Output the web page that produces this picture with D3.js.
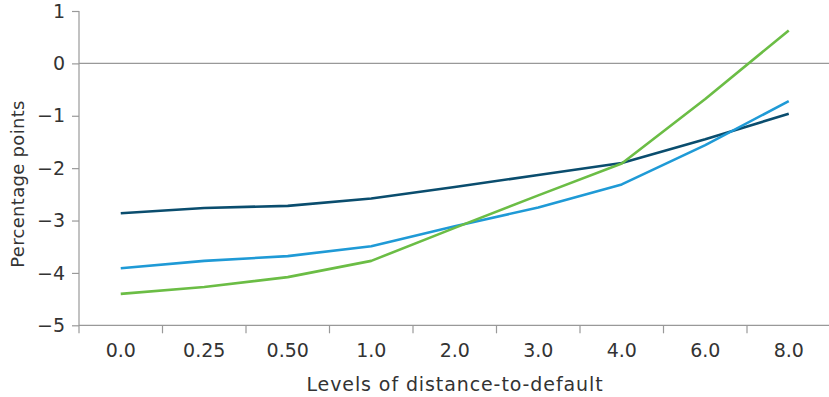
<!DOCTYPE html>
<html><head><meta charset="utf-8">
<script src="https://cdn.jsdelivr.net/npm/d3@7"></script>
<style>body{margin:0;background:#fff;} text{font-family:"DejaVu Sans",sans-serif;fill:#333;}</style>
</head><body>
<svg id="c" width="829" height="397"></svg>
<script>
const categories = ["0.0","0.25","0.50","1.0","2.0","3.0","4.0","6.0","8.0"];
const seriesNavy  = [-2.86,-2.76,-2.72,-2.58,-2.36,-2.13,-1.90,-1.45,-0.96];
const seriesBlue  = [-3.91,-3.77,-3.68,-3.49,-3.11,-2.75,-2.31,-1.56,-0.72];
const seriesGreen = [-4.40,-4.27,-4.08,-3.77,-3.14,-2.52,-1.91,-0.68,0.63];
const yTicks = [1,0,-1,-2,-3,-4,-5];
const yTickLabels = ["1","0","\u22121","\u22122","\u22123","\u22124","\u22125"];
const colors = ["#0a4d6e","#1f9ad6","#6bbd45"];

const svg = d3.select("#c");
const x = d3.scaleBand().domain(categories).range([79, 830.5]).padding(0);
const y = d3.scaleLinear().domain([-5, 1]).range([325.3, 11]);
const axisColor = "#999";
const fs = "19px";

// y axis
const gy = svg.append("g").attr("transform","translate(79,0)")
  .call(d3.axisLeft(y).tickValues(yTicks).tickSize(7).tickPadding(7)
    .tickFormat(d=>yTickLabels[yTicks.indexOf(d)]));
gy.select(".domain").attr("stroke",axisColor).attr("stroke-width",1.2).attr("d","M0,"+y(1)+"V"+y(-5));
gy.selectAll(".tick line").attr("stroke",axisColor).attr("stroke-width",1.2);
gy.selectAll(".tick text").style("font-size",fs).style("fill","#333").style("font-family","DejaVu Sans");

// x axis bottom
const gx = svg.append("g").attr("transform","translate(0,"+y(-5)+")");
gx.append("line").attr("x1",79).attr("x2",829).attr("y1",0).attr("y2",0)
  .attr("stroke",axisColor).attr("stroke-width",1.2);
gx.selectAll("line.tk").data(categories).enter().append("line").attr("class","tk")
  .attr("x1",d=>x(d)).attr("x2",d=>x(d)).attr("y1",0).attr("y2",8)
  .attr("stroke",axisColor).attr("stroke-width",1.2);
gx.selectAll("text").data(categories).enter().append("text")
  .attr("x",d=>x(d)+x.bandwidth()/2).attr("y",32).attr("text-anchor","middle")
  .style("font-size",fs).text(d=>d);

// zero line
svg.append("line").attr("x1",79).attr("x2",829).attr("y1",y(0)).attr("y2",y(0))
  .attr("stroke",axisColor).attr("stroke-width",1.2);

// lines
const line = d3.line().x((d,i)=>x(categories[i])+x.bandwidth()/2).y(d=>y(d));
[seriesNavy, seriesBlue, seriesGreen].forEach((s,k)=>{
  svg.append("path").datum(s).attr("d",line).attr("fill","none")
    .attr("stroke",colors[k]).attr("stroke-width",2.6).attr("stroke-linejoin","round");
});

// axis titles
svg.append("text").attr("x",455).attr("y",391).attr("text-anchor","middle")
  .style("font-size",fs).style("letter-spacing","0.9px").text("Levels of distance-to-default");
svg.append("text").attr("transform","translate(24,184) rotate(-90)").attr("text-anchor","middle")
  .style("font-size","18px").style("letter-spacing","0.3px").text("Percentage points");
</script>
</body></html>
